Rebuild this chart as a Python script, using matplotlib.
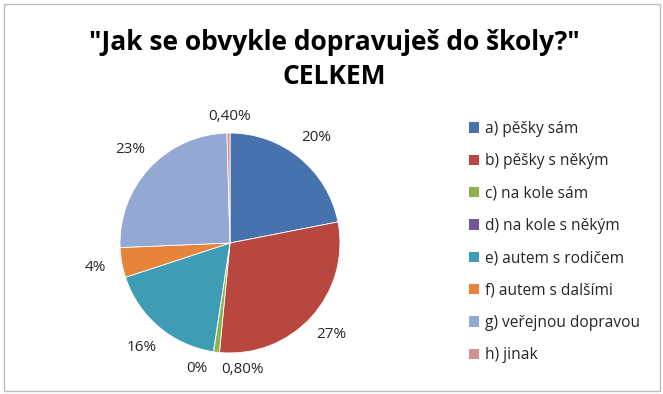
import matplotlib
matplotlib.use("Agg")
import matplotlib.pyplot as plt
from matplotlib.patches import Rectangle, Patch

categories = ["a) pěšky sám", "b) pěšky s někým", "c) na kole sám", "d) na kole s někým",
              "e) autem s rodičem", "f) autem s dalšími", "g) veřejnou dopravou", "h) jinak"]
values = [20, 27, 0.8, 0, 16, 4, 23, 0.4]
value_labels = ["20%", "27%", "0,80%", "0%", "16%", "4%", "23%", "0,40%"]
colors = ["#4673AD", "#B8473F", "#8FB14F", "#715796", "#3E9DB5", "#E5843A", "#93A9D4", "#D4908E"]

plt.rcParams['font.family'] = ['Open Sans', 'DejaVu Sans']

W, H = 663, 394
fig = plt.figure(figsize=(W / 100, H / 100), dpi=100)

# frame
fig.patches.append(Rectangle((4 / W, 3 / H), 656 / W, 387 / H, transform=fig.transFigure,
                             fill=False, edgecolor="#BDBDBD", linewidth=1.0))

fig.text(334 / W, 1 - 43 / H, "\"Jak se obvykle dopravuješ do školy?\"", ha="center", va="center",
         fontsize=19, fontweight="bold", color="#000000")
fig.text(334 / W, 1 - 76 / H, "CELKEM", ha="center", va="center",
         fontsize=19, fontweight="bold", color="#000000")

cx, cy, r = 230, 243, 110
ax = fig.add_axes([(cx - r) / W, (H - cy - r) / H, 2 * r / W, 2 * r / H])
wedges, texts = ax.pie(values, colors=colors, startangle=90, counterclock=False,
                       labels=value_labels, labeldistance=1.24,
                       wedgeprops=dict(linewidth=0.6, edgecolor="white"),
                       textprops=dict(fontsize=11, color="#262626"))
ax.set_xlim(-1, 1)
ax.set_ylim(-1, 1)
for t in texts:
    t.set_ha("center")
    t.set_va("center")
    t.set_clip_on(False)
# adjust crowded small-slice labels
texts[2].set_position((0.11, -1.15))
texts[3].set_position((-0.30, -1.14))
texts[7].set_position((0.0, 1.15))

handles = [Patch(facecolor=c, edgecolor="none") for c in colors]
leg = fig.legend(handles, categories, loc="upper left", bbox_to_anchor=(455 / W, 1 - 107 / H),
                 frameon=False, fontsize=11.2, labelspacing=1.05, handlelength=0.65,
                 handleheight=0.65, handletextpad=0.35, labelcolor="#262626")

fig.savefig("out.png", dpi=100)
